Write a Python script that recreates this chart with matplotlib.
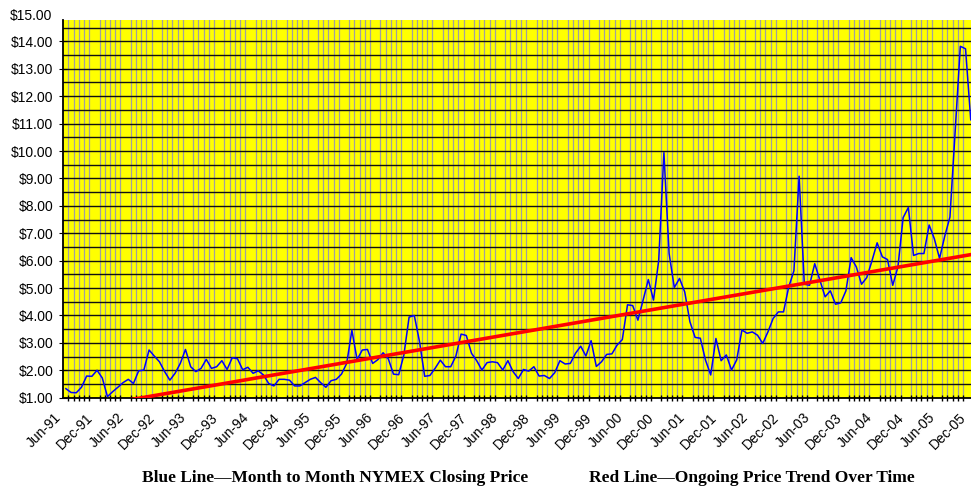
import numpy as np
import pandas as pd
from matplotlib import pyplot as plt
from matplotlib import transforms
from matplotlib.ticker import MultipleLocator, FuncFormatter

# monthly NYMEX closing price, Jun-91 onward
prices = [1.33, 1.19, 1.18, 1.38, 1.79, 1.78, 2.00, 1.72, 1.04, 1.22,
          1.38, 1.55, 1.67, 1.52, 1.98, 2.01, 2.74, 2.52, 2.31, 1.95,
          1.64, 1.89, 2.25, 2.76, 2.13, 1.95, 2.07, 2.40, 2.07, 2.13,
          2.35, 2.03, 2.46, 2.42, 2.02, 2.11, 1.89, 1.98, 1.83, 1.52,
          1.43, 1.67, 1.67, 1.64, 1.43, 1.43, 1.55, 1.67, 1.74, 1.55,
          1.38, 1.62, 1.67, 1.86, 2.25, 3.46, 2.39, 2.74, 2.76, 2.25,
          2.39, 2.64, 2.42, 1.86, 1.84, 2.56, 3.94, 4.00, 3.05, 1.78,
          1.81, 2.07, 2.37, 2.13, 2.13, 2.52, 3.32, 3.27, 2.62, 2.35,
          2.01, 2.28, 2.31, 2.28, 2.01, 2.35, 1.95, 1.70, 2.03, 1.97,
          2.13, 1.79, 1.81, 1.70, 1.91, 2.35, 2.23, 2.25, 2.62, 2.88,
          2.52, 3.08, 2.14, 2.31, 2.58, 2.60, 2.92, 3.12, 4.39, 4.36,
          3.83, 4.56, 5.31, 4.56, 6.01, 9.94, 6.26, 5.02, 5.35, 4.86,
          3.77, 3.20, 3.17, 2.37, 1.83, 3.16, 2.35, 2.56, 2.01, 2.38,
          3.47, 3.35, 3.40, 3.28, 2.98, 3.40, 3.89, 4.13, 4.13, 5.04,
          5.63, 9.08, 5.14, 5.10, 5.89, 5.29, 4.68, 4.90, 4.41, 4.46,
          4.90, 6.11, 5.77, 5.14, 5.38, 5.99, 6.65, 6.14, 6.04, 5.10,
          5.77, 7.57, 7.94, 6.19, 6.26, 6.26, 7.30, 6.80, 6.08, 6.89,
          7.59, 10.70, 13.82, 13.73, 11.14]

# ends of the red trend line (first and last month)
trend_start = 0.52
trend_end = 6.22

months = pd.date_range('1991-06-01', periods=len(prices), freq='MS')
month_labels = [m.strftime('%b-%y') for m in months]

x = np.arange(len(prices))

fig = plt.figure(figsize=(9.71, 4.86), dpi=100)
ax = fig.add_axes([63 / 971, 88.3 / 486, 908 / 971, 377.7 / 486])
ax.set_facecolor('#ffff00')

ax.plot(x, prices, color='#0000ff', lw=1.1, zorder=3)
ax.plot([x[0], x[-1]], [trend_start, trend_end], color='#ff0000', lw=2.6, zorder=4)

# month boundaries: grid + small ticks
ax.set_xticks(np.arange(len(prices) + 1) - 0.5, minor=True)
ax.set_xticks(x[::6] - 0.5)
ax.set_xticklabels(month_labels[::6], rotation=45, ha='right',
                   rotation_mode='anchor', fontsize=10, family='Liberation Sans')
ax.tick_params(axis='x', which='major', length=0, pad=9)
ax.tick_params(axis='x', which='minor', length=4, direction='inout', color='black', width=1)
ax.grid(True, axis='x', which='minor', color='#a0a0a0', lw=0.9, zorder=1)
shift = transforms.ScaledTranslation(-0.09, 0, fig.dpi_scale_trans)
for lab in ax.get_xticklabels():
    lab.set_transform(lab.get_transform() + shift)

ax.set_xlim(-0.55, 174.05)
ax.set_ylim(1.0, 14.78)

ax.yaxis.set_major_locator(MultipleLocator(1))
ax.yaxis.set_minor_locator(MultipleLocator(0.5))
ax.yaxis.set_major_formatter(FuncFormatter(lambda v, p: f'${v:.2f}'))
ax.tick_params(axis='y', which='major', length=6, direction='inout', pad=4,
               labelsize=10, color='black')
ax.tick_params(axis='y', which='minor', length=0)
for lab in ax.get_yticklabels():
    lab.set_family('Liberation Sans')
ax.grid(True, axis='y', which='both', color='#111111', lw=1.0, zorder=2)
ax.set_axisbelow(True)

ax.annotate('$15.00', xy=(0, 14.94), xycoords=('axes fraction', 'data'),
            xytext=(-7.5, 0), textcoords='offset points', ha='right', va='center',
            fontsize=10, family='Liberation Sans', annotation_clip=False)

for side in ['top', 'right']:
    ax.spines[side].set_visible(False)
ax.spines['left'].set_linewidth(1.3)
ax.spines['bottom'].set_linewidth(1.3)

fig.text(335 / 971, 1 - 478 / 486, 'Blue Line\u2014Month to Month NYMEX Closing Price',
         ha='center', va='center', fontsize=12.5, fontweight='bold',
         family='Liberation Serif')
fig.text(752 / 971, 1 - 478 / 486, 'Red Line\u2014Ongoing Price Trend Over Time',
         ha='center', va='center', fontsize=12.5, fontweight='bold',
         family='Liberation Serif')

fig.savefig('out.png', dpi=100)
